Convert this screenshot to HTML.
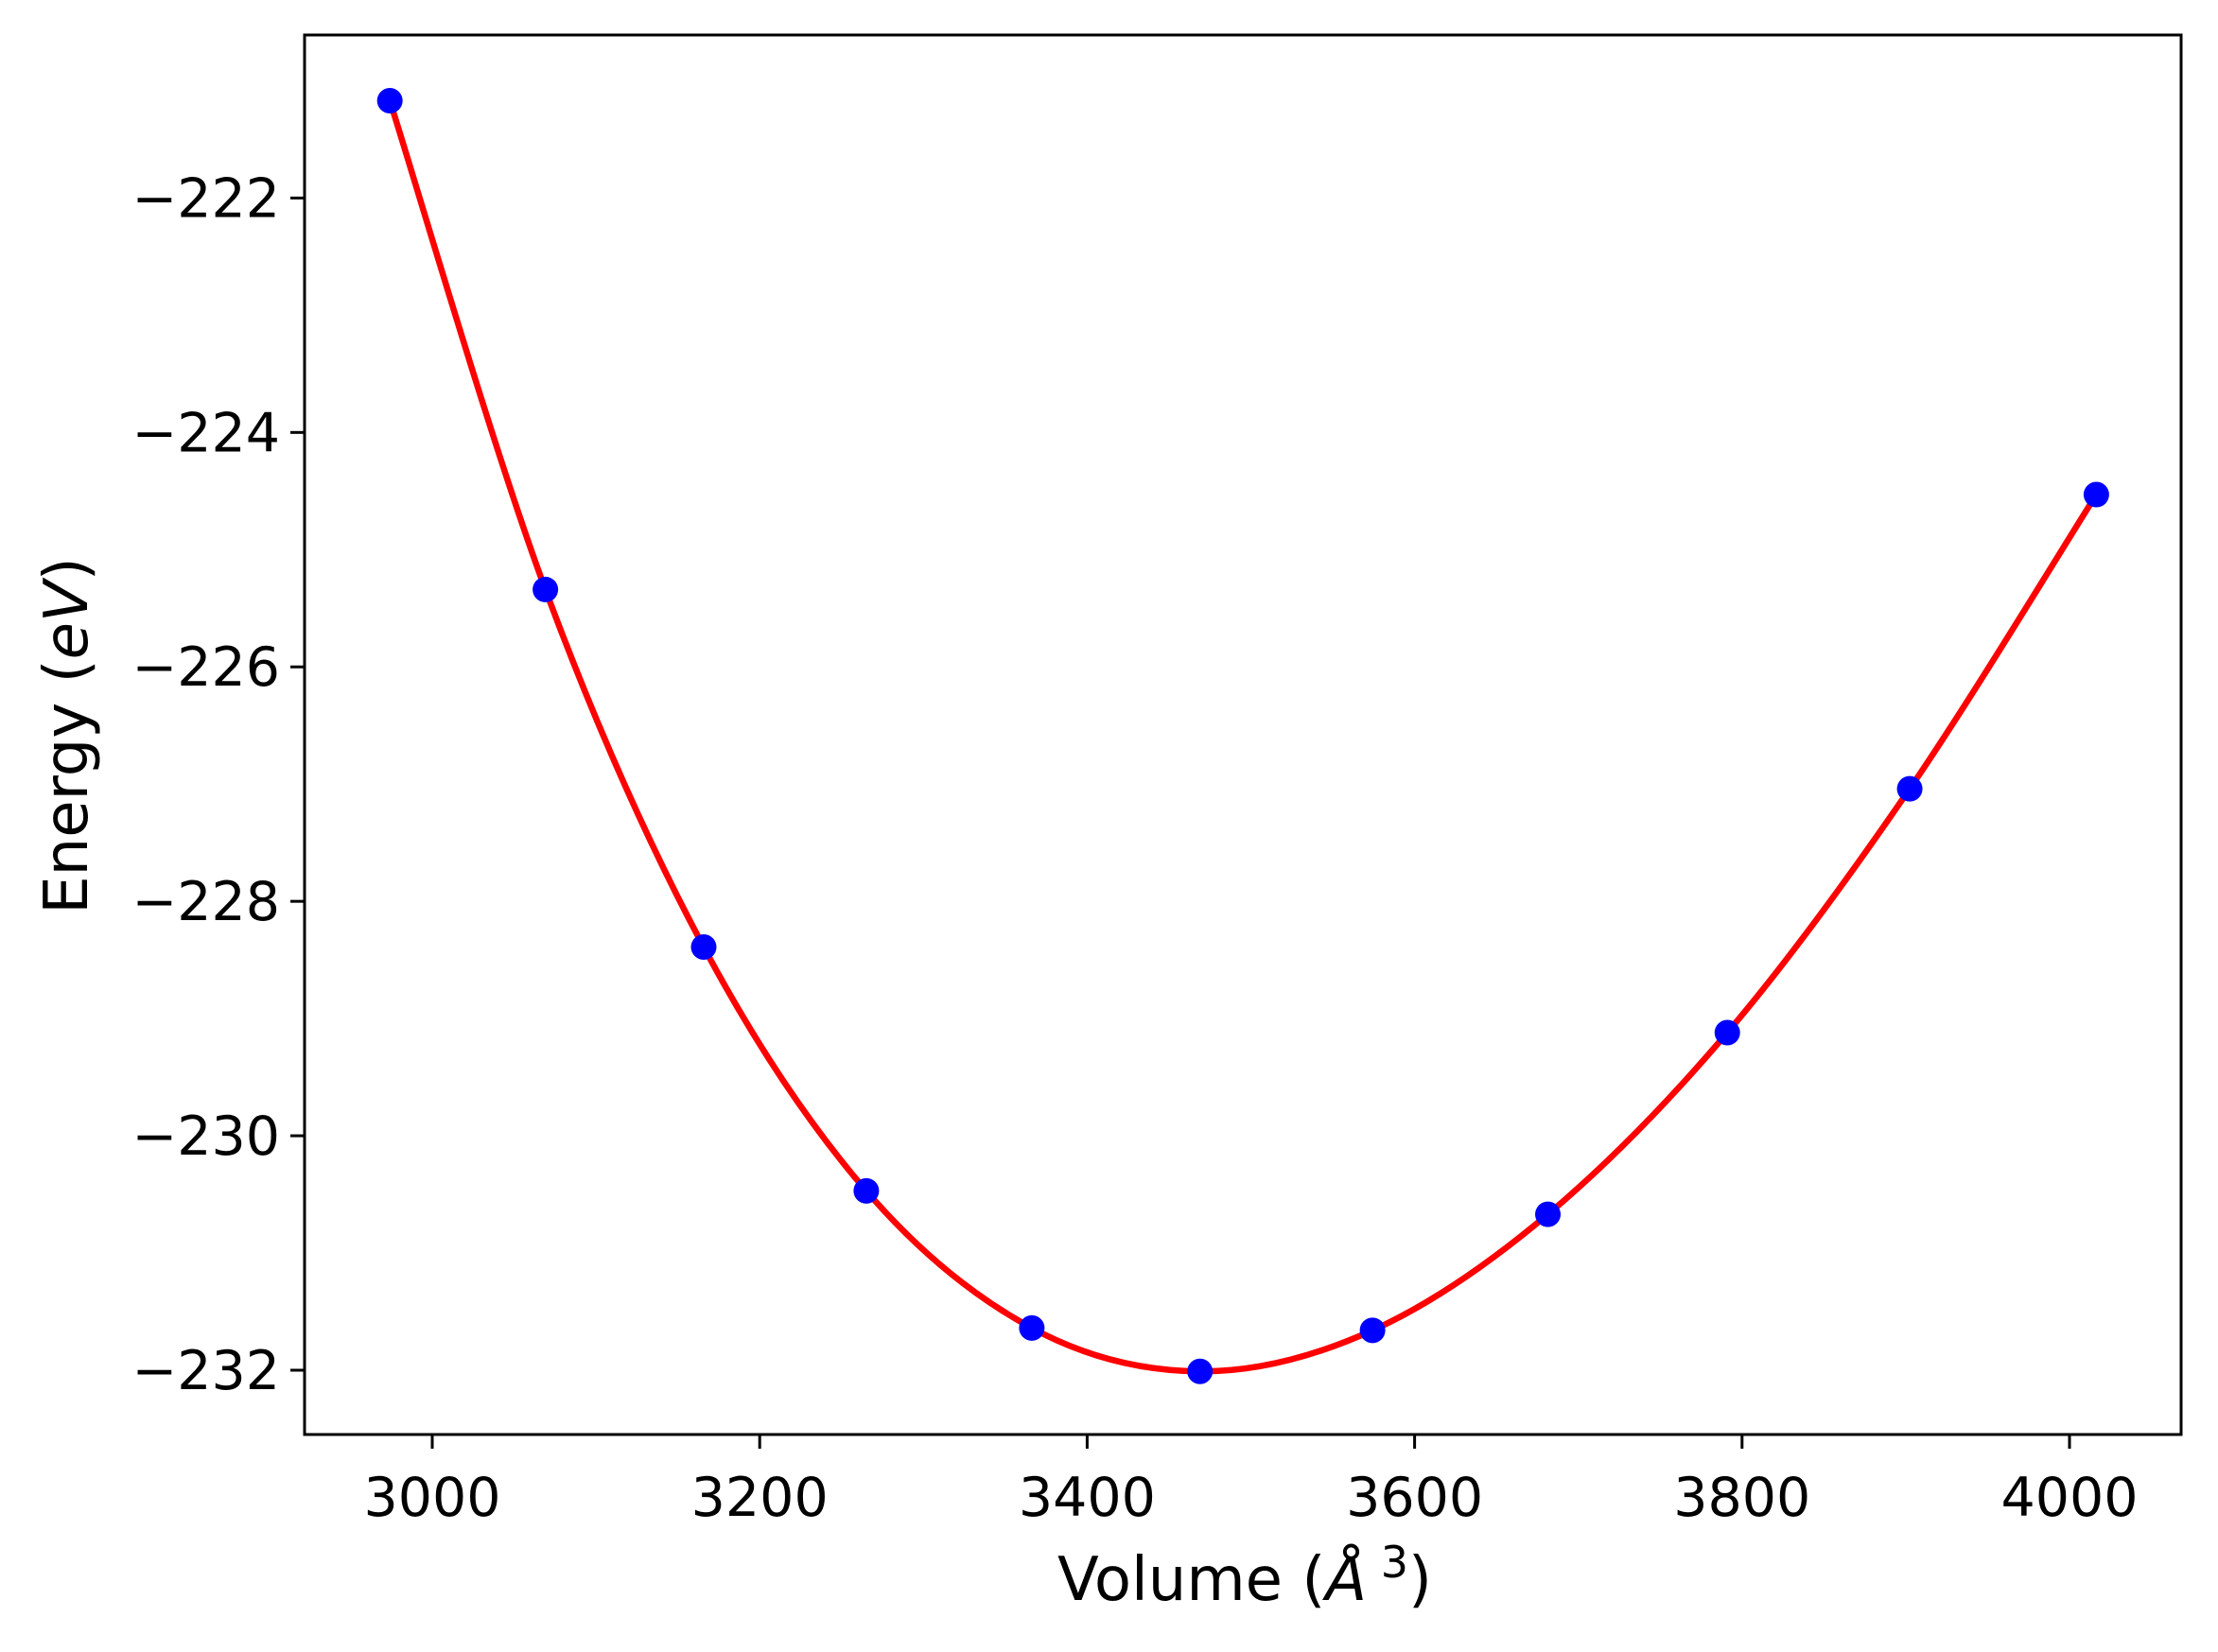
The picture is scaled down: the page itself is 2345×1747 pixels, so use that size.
<!DOCTYPE html>
<html><head><meta charset="utf-8"><style>
html,body{margin:0;padding:0;background:#fff;}
svg{display:block;font-family:"DejaVu Sans","Liberation Sans",sans-serif;}
</style></head><body>
<svg id="chart" width="2345" height="1747" viewBox="0 0 2345 1747" xmlns="http://www.w3.org/2000/svg">
<rect x="0" y="0" width="2345" height="1747" fill="#fff"/>
<g id="ticks"></g>
<path id="fit" fill="none" stroke="#ff0000" stroke-width="6.5" stroke-linejoin="round"/>
<g id="pts"></g>
<rect x="322" y="37" width="1984" height="1480" fill="none" stroke="#000" stroke-width="3"/>
<text x="1316" y="1692" font-size="64" text-anchor="middle">Volume (<tspan font-style="italic">Å</tspan><tspan font-size="46" dy="-24"> 3</tspan><tspan dy="24">)</tspan></text>
<text transform="translate(92,778) rotate(-90)" font-size="64" text-anchor="middle">Energy (<tspan font-style="italic">eV</tspan>)</text>
</svg>
<script>
const volumes = [2974.1, 3069.1, 3165.8, 3265.1, 3366.2, 3468.9, 3574.3, 3681.4, 3791.0, 3902.4, 4016.4];
const energies = [-221.17, -225.34, -228.39, -230.47, -231.64, -232.01, -231.66, -230.67, -229.12, -227.04, -224.53];
const xTicks = [3000, 3200, 3400, 3600, 3800, 4000];
const yTicks = [-222, -224, -226, -228, -230, -232];

const NS = "http://www.w3.org/2000/svg";
function xS(v){ return 457 + (v - 3000) * (2188 - 457) / 1000; }
function yS(e){ return 209.4 + (-222 - e) * (1449 - 209.4) / 10; }

const tg = document.getElementById('ticks');
xTicks.forEach(t => {
  const l = document.createElementNS(NS, 'line');
  l.setAttribute('x1', xS(t)); l.setAttribute('x2', xS(t));
  l.setAttribute('y1', 1517); l.setAttribute('y2', 1532);
  l.setAttribute('stroke', '#000'); l.setAttribute('stroke-width', 3);
  
  
  tg.appendChild(l);
  const tx = document.createElementNS(NS, 'text');
  tx.setAttribute('x', xS(t)); tx.setAttribute('y', 1603);
  tx.setAttribute('font-size', 57); tx.setAttribute('text-anchor', 'middle');
  tx.textContent = String(t);
  
  
  tg.appendChild(tx);
});
yTicks.forEach(t => {
  const l = document.createElementNS(NS, 'line');
  l.setAttribute('x1', 307); l.setAttribute('x2', 322);
  l.setAttribute('y1', yS(t)); l.setAttribute('y2', yS(t));
  l.setAttribute('stroke', '#000'); l.setAttribute('stroke-width', 3);
  
  
  tg.appendChild(l);
  const tx = document.createElementNS(NS, 'text');
  tx.setAttribute('x', 296); tx.setAttribute('y', yS(t) + 20);
  tx.setAttribute('font-size', 57); tx.setAttribute('text-anchor', 'end');
  tx.textContent = '\u2212' + Math.abs(t);
  
  
  tg.appendChild(tx);
});

const P = volumes.map((v,i) => [xS(v), yS(energies[i])]);
let d = 'M' + P[0][0] + ',' + P[0][1];
for (let i = 0; i < P.length - 1; i++) {
  const p0 = P[Math.max(0,i-1)], p1 = P[i], p2 = P[i+1], p3 = P[Math.min(P.length-1,i+2)];
  const c1 = [p1[0] + (p2[0]-p0[0])/6, p1[1] + (p2[1]-p0[1])/6];
  const c2 = [p2[0] - (p3[0]-p1[0])/6, p2[1] - (p3[1]-p1[1])/6];
  d += ' C' + c1.join(',') + ' ' + c2.join(',') + ' ' + p2.join(',');
}
document.getElementById('fit').setAttribute('d', d);

const pg = document.getElementById('pts');
volumes.forEach((v,i) => {
  const c = document.createElementNS(NS, 'circle');
  c.setAttribute('cx', xS(v)); c.setAttribute('cy', yS(energies[i]));
  c.setAttribute('r', 13.5); c.setAttribute('fill', '#0000ff');
  
  
  pg.appendChild(c);
});
</script>
</body></html>
